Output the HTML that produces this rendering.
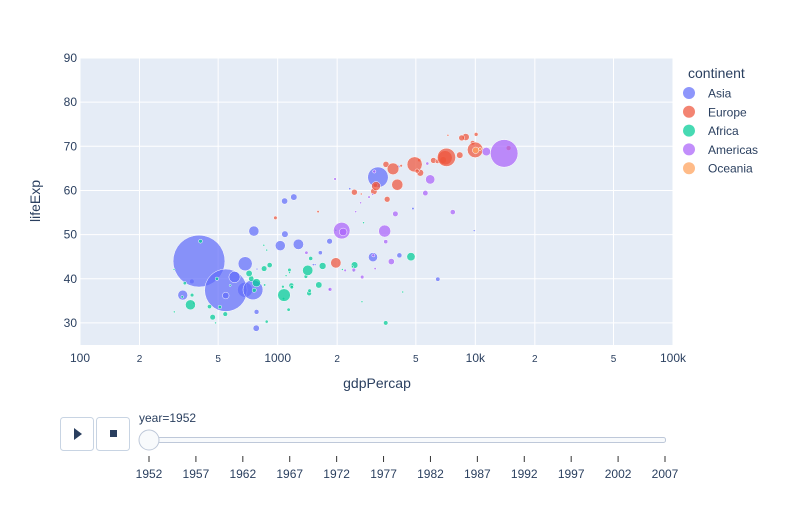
<!DOCTYPE html>
<html><head><meta charset="utf-8">
<style>
body{margin:0;background:#fff;}
svg text{font-family:"Liberation Sans",sans-serif;fill:#2a3f5f;}
</style></head>
<body>
<svg id="chart" width="800" height="500" xmlns="http://www.w3.org/2000/svg">
<rect x="80" y="58" width="593" height="287" fill="#e5ecf6"/>
<g id="grid"></g>
<g id="marks"></g>
<g id="axes"></g>
<text x="377" y="388" font-size="14" text-anchor="middle">gdpPercap</text>
<text x="40" y="201" font-size="14" text-anchor="middle" transform="rotate(-90 40 201)">lifeExp</text>
<g>
<text x="688" y="78" font-size="14">continent</text>
<g id="legend"></g>
</g>
<g>
<rect x="60.5" y="417.5" width="33" height="33" rx="3" fill="#fff" stroke="#c8d4e3"/>
<path d="M74 428 L82 434 L74 440 Z" fill="#2a3f5f"/>
<rect x="96.5" y="417.5" width="33" height="33" rx="3" fill="#fff" stroke="#c8d4e3"/>
<rect x="110" y="430" width="7" height="7" fill="#2a3f5f"/>
<text x="139" y="422" font-size="12">year=1952</text>
<rect x="148.5" y="437.5" width="517" height="5" rx="2" fill="#f8fafc" stroke="#bec8d9"/>
<g id="slider"></g>
<circle cx="149" cy="440" r="10" fill="#f8fafc" stroke="#bec8d9"/>
</g>
</svg>
<script>
const continents=["Asia","Europe","Africa","Americas","Oceania"];
const colors=["#636efa","#EF553B","#00cc96","#ab63fa","#FFA15A"];
// [gdpPercap, lifeExp, pop (millions)]
const asia=[[779,28.8,8.4],[9867,50.9,0.12],[684,37.5,46.9],[368,39.4,4.7],[400,44,556],[3054,61,2.1],[547,37.4,372],[750,37.5,82],[3035,44.9,17.3],[4129,45.3,5.4],[4087,65.4,1.6],[3217,63,86.5],[1547,43.2,0.6],[1088,50.1,8.9],[1031,47.5,20.9],[4835,55.9,1.4],[1831,48.5,6.7],[786,42.2,0.8],[331,36.3,20.1],[546,36.2,9.2],[1828,37.6,0.5],[685,43.4,41.3],[1273,47.8,22.4],[6459,39.9,4.0],[2315,60.4,1.1],[1084,57.6,8],[1644,45.9,3.7],[1207,58.5,8.6],[758,50.8,21.3],[605,40.4,26.2],[1516,43.2,1.0],[782,32.5,5]];
const europe=[[1601,55.2,1.28],[6137,66.8,6.9],[8343,68,8.7],[974,53.8,2.8],[2444,59.6,7.3],[3119,61.2,3.9],[6876,66.9,9.1],[9692,70.8,4.3],[6425,66.6,4.1],[7030,67.4,42.5],[7144,67.5,69.1],[3531,65.9,7.7],[5264,64,9.5],[7268,72.5,0.15],[5210,66.9,2.95],[4931,65.9,47.7],[2648,59.2,0.4],[8942,72.1,10.4],[10095,72.7,3.3],[4029,61.3,25.7],[3068,59.8,8.5],[3145,61,16.6],[3581,58,6.9],[5075,64.4,3.6],[4215,65.6,1.5],[3834,64.9,28.5],[8528,71.9,7.1],[14734,69.6,4.8],[1970,43.6,22.2],[9980,69.2,50.4]];
const africa=[[2449,43.1,9.3],[3521,30,4.2],[1063,38.2,1.7],[851,47.6,0.44],[543,32,4.5],[339,39,2.4],[1173,38.5,5],[1071,35.5,1.3],[1179,38.1,2.7],[1103,40.7,0.15],[781,39.1,14.1],[2126,42.1,0.85],[1389,40.5,3],[2670,34.8,0.06],[1419,41.9,22.2],[376,34.5,0.2],[329,35.9,1.4],[362,34.1,20.9],[4293,37,0.42],[485,30,0.28],[911,43.1,5.6],[510,33.6,2.7],[300,32.5,0.58],[854,42.3,6.5],[299,42.1,0.75],[575,38.5,0.86],[2388,42.7,1.0],[1443,36.7,4.8],[369,36.3,2.9],[452,33.7,3.8],[743,40.5,1.0],[1968,51,0.5],[1688,42.9,9.9],[469,31.3,6.4],[2424,41.7,0.49],[761,37.4,3.4],[1077,36.3,33.1],[2719,52.7,0.26],[493,40,2.5],[880,46.5,0.06],[1450,37.3,2.76],[880,30.3,2.1],[1136,33,2.5],[4725,45,14.3],[1615,38.6,8.5],[1148,41.4,0.29],[717,41.2,8.3],[859,38.6,1.2],[1469,44.6,3.6],[735,40,5.8],[1147,42,2.7],[407,48.5,3.1]];
const americas=[[5911,62.5,17.9],[2677,40.4,2.9],[2109,50.9,56.6],[11367,68.8,14.8],[3940,54.7,6.4],[2144,50.6,12.4],[2627,57.2,0.93],[5587,59.4,6.0],[1398,45.9,2.5],[3522,48.4,3.5],[3048,45.3,2.0],[2428,42,3.1],[1840,37.6,3.2],[2195,41.9,1.5],[2899,58.5,1.4],[3478,50.8,30.1],[3112,42.3,1.2],[2480,55.2,0.94],[1952,62.6,1.6],[3759,43.9,8.0],[3082,64.3,2.2],[3023,59.1,0.66],[13990,68.4,157.6],[5717,66.1,2.25],[7690,55.1,5.4]];
const oceania=[[10040,69.1,8.7],[10557,69.4,1.99]];
const xTicks=[100,200,500,1000,2000,5000,10000,20000,50000,100000];
const xTickLabels=["100","2","5","1000","2","5","10k","2","5","100k"];
const yTicks=[30,40,50,60,70,80,90];
const years=[1952,1957,1962,1967,1972,1977,1982,1987,1992,1997,2002,2007];

const NS="http://www.w3.org/2000/svg";
const X0=80,X1=673,Y0=345,Y1=58;
function xs(v){return X0+(Math.log10(v)-2)/3*(X1-X0);}
function ys(v){return Y0-(v-25)/65*(Y0-Y1);}
function rs(p){return Math.max(1,1.1*Math.sqrt(p));}
function mk(tag,attrs,parent){const e=document.createElementNS(NS,tag);for(const k in attrs)e.setAttribute(k,attrs[k]);parent.appendChild(e);return e;}
const grid=document.getElementById('grid'),axes=document.getElementById('axes'),marks=document.getElementById('marks');
xTicks.forEach((t,i)=>{
  const l=mk('line',{x1:xs(t),x2:xs(t),y1:Y1,y2:Y0,stroke:'#fff','stroke-width':1},grid);
  
  
  const small=xTickLabels[i].length===1;
  const tx=mk('text',{x:xs(t),y:362,'font-size':small?10:12,'text-anchor':'middle'},axes);
  tx.textContent=xTickLabels[i];
  
  
});
yTicks.forEach(t=>{
  const l=mk('line',{x1:X0,x2:X1,y1:ys(t),y2:ys(t),stroke:'#fff','stroke-width':1},grid);
  
  
  const tx=mk('text',{x:77,y:ys(t)+4,'font-size':12,'text-anchor':'end'},axes);
  tx.textContent=t;
  
  
});
[asia,europe,africa,americas,oceania].forEach((arr,ci)=>{
  arr.forEach(d=>{
    if(d[0]>100000)return;
    const c=mk('circle',{cx:xs(d[0]),cy:ys(d[1]),r:rs(d[2]),fill:colors[ci],'fill-opacity':0.72,stroke:'#fff','stroke-width':0.5},marks);
    
    
  });
});
const lg=document.getElementById('legend');
continents.forEach((n,i)=>{
  const y=93+i*18.8;
  const c=mk('circle',{cx:689,cy:y,r:6,fill:colors[i],'fill-opacity':0.72},lg);
  
  
  const t=mk('text',{x:708,y:y+4.5,'font-size':12},lg);
  t.textContent=n;
  
  
});
const sl=document.getElementById('slider');
years.forEach((yr,i)=>{
  const x=149+i*(665-149)/(years.length-1);
  const l=mk('line',{x1:x,x2:x,y1:456,y2:462,stroke:'#333','stroke-width':1},sl);
  
  
  const t=mk('text',{x:x,y:478,'font-size':12,'text-anchor':'middle'},sl);
  t.textContent=yr;
  
  
});
</script>
</body></html>
